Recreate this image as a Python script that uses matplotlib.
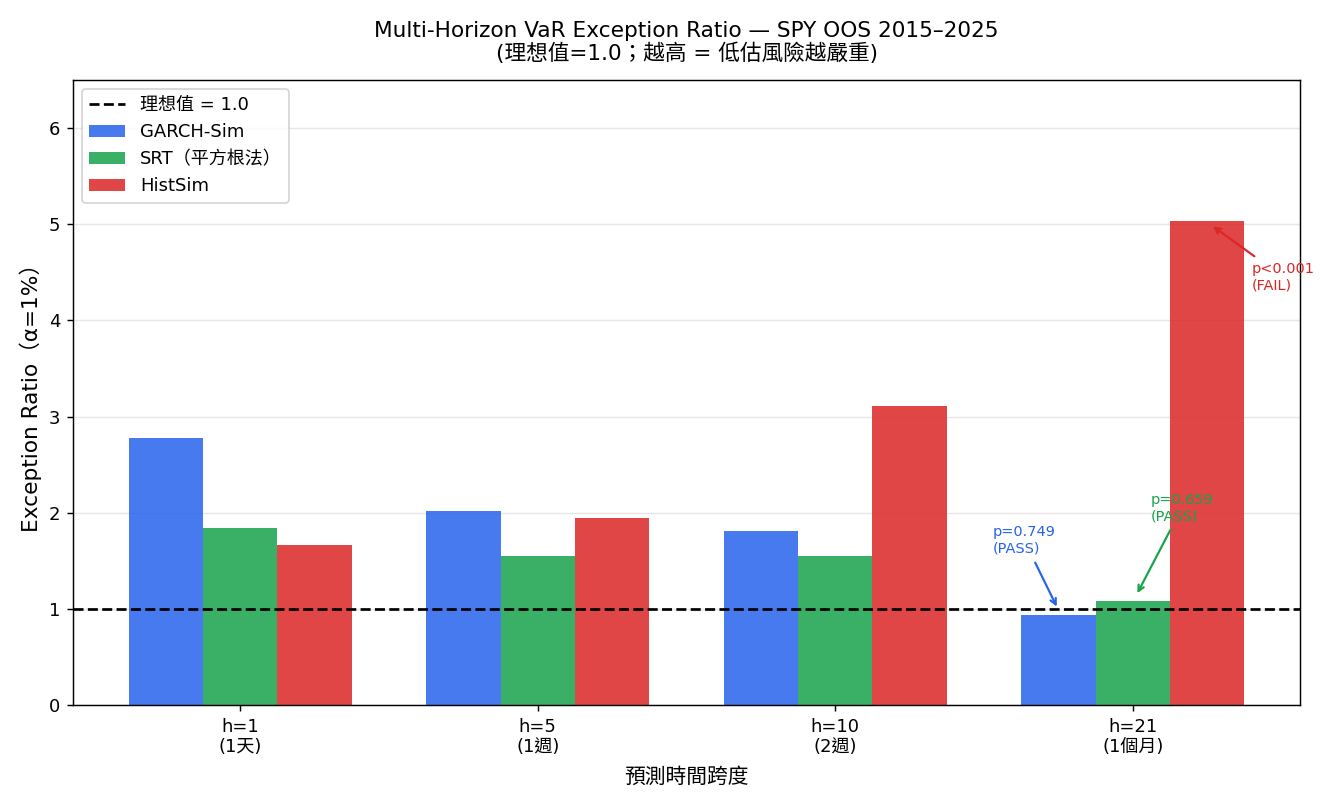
import matplotlib
matplotlib.use("Agg")
import matplotlib.pyplot as plt
import numpy as np

plt.rcParams['font.family'] = ['DejaVu Sans', 'Noto Sans CJK TC']

horizons = ["h=1\n(1天)", "h=5\n(1週)", "h=10\n(2週)", "h=21\n(1個月)"]
garch = [2.78, 2.02, 1.81, 0.94]
srt = [1.84, 1.55, 1.55, 1.08]
hist = [1.66, 1.95, 3.11, 5.03]
series_labels = ["GARCH-Sim", "SRT（平方根法）", "HistSim"]
colors = ["#2563eb", "#16a34a", "#dc2626"]

fig = plt.figure(figsize=(1327 / 130, 806 / 130), dpi=130)
ax = fig.add_axes([0.055, 0.1253, 0.9247, 0.7754])

x = np.arange(len(horizons))
w = 0.25
ax.axhline(1.0, color="black", linestyle="--", linewidth=1.5, label="理想值 = 1.0", zorder=3)
for i, (vals, lab, c) in enumerate(zip([garch, srt, hist], series_labels, colors)):
    ax.bar(x + (i - 1) * w, vals, w, color=c, alpha=0.85, label=lab, zorder=2)

ax.set_ylim(0, 6.5)
ax.set_xticks(x)
ax.set_xticklabels(horizons, fontsize=10)
ax.tick_params(axis='y', labelsize=10)
ax.yaxis.grid(True, alpha=0.3, zorder=0)
ax.set_axisbelow(True)
ax.set_xlabel("預測時間跨度", fontsize=11.5, labelpad=6)
ax.set_ylabel("Exception Ratio（α=1%）", fontsize=12)
ax.set_title("Multi-Horizon VaR Exception Ratio — SPY OOS 2015–2025\n(理想值=1.0；越高 = 低估風險越嚴重)",
             fontsize=12, pad=11, linespacing=1.1)

ax.legend(loc="upper left", fontsize=10)

# annotations for h=21
ax.annotate("p=0.749\n(PASS)", xy=(3 - w, garch[3] + 0.05), xytext=(2.53, 1.71),
            fontsize=8, color=colors[0], ha="left", va="center",
            arrowprops=dict(arrowstyle="->", color=colors[0], lw=1.2))
ax.annotate("p=0.659\n(PASS)", xy=(3 + 0.01, srt[3] + 0.05), xytext=(3.06, 2.05),
            fontsize=8, color=colors[1], ha="left", va="center",
            arrowprops=dict(arrowstyle="->", color=colors[1], lw=1.2))
ax.annotate("p<0.001\n(FAIL)", xy=(3 + w + 0.01, hist[3] - 0.03), xytext=(3.40, 4.45),
            fontsize=8, color=colors[2], ha="left", va="center",
            arrowprops=dict(arrowstyle="->", color=colors[2], lw=1.2))

fig.savefig("out.png", dpi=130)
